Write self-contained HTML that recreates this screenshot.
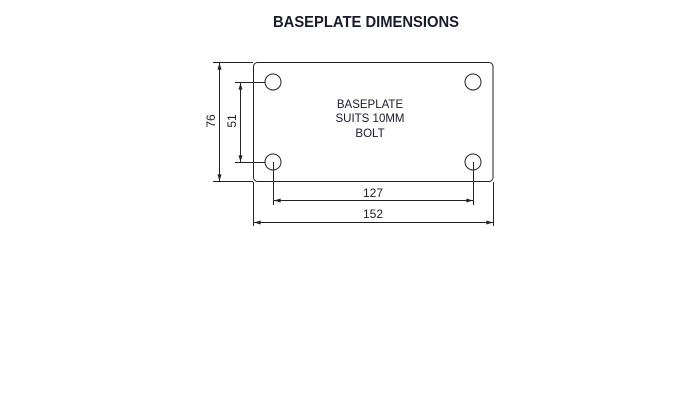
<!DOCTYPE html>
<html><head><meta charset="utf-8"><style>html,body{margin:0;padding:0;background:#fff;width:700px;height:400px;overflow:hidden}</style></head>
<body>
<svg width="700" height="400" viewBox="0 0 700 400" xmlns="http://www.w3.org/2000/svg" font-family="Liberation Sans, sans-serif">
<defs>
<marker id="a" viewBox="0 0 10 6" refX="10" refY="3" markerWidth="8" markerHeight="4" orient="auto-start-reverse" markerUnits="userSpaceOnUse"><path d="M0,0 L10,3 L0,6z" fill="#222"/></marker>
</defs>
<text x="366" y="27" text-anchor="middle" font-size="16" font-weight="bold" fill="#1a1a2e" textLength="186" lengthAdjust="spacingAndGlyphs">BASEPLATE DIMENSIONS</text>
<g stroke="#222" stroke-width="1" fill="none">
<rect x="253.5" y="62.5" width="239.5" height="119" rx="4"/>
<circle cx="273" cy="82" r="8"/>
<circle cx="473" cy="82" r="8"/>
<circle cx="273" cy="162" r="8"/>
<circle cx="473" cy="162" r="8"/>
<line x1="213" y1="62.5" x2="253" y2="62.5"/>
<line x1="213" y1="181.5" x2="253" y2="181.5"/>
<line x1="219.5" y1="63" x2="219.5" y2="181" marker-start="url(#a)" marker-end="url(#a)"/>
<line x1="235" y1="82.5" x2="265" y2="82.5"/>
<line x1="235" y1="162.5" x2="265" y2="162.5"/>
<line x1="240.5" y1="83" x2="240.5" y2="162" marker-start="url(#a)" marker-end="url(#a)"/>
<line x1="273.5" y1="162" x2="273.5" y2="205"/>
<line x1="473.5" y1="162" x2="473.5" y2="205"/>
<line x1="274" y1="200.5" x2="473" y2="200.5" marker-start="url(#a)" marker-end="url(#a)"/>
<line x1="253.5" y1="182" x2="253.5" y2="226"/>
<line x1="493.5" y1="182" x2="493.5" y2="226"/>
<line x1="254" y1="222.5" x2="493" y2="222.5" marker-start="url(#a)" marker-end="url(#a)"/>
</g>
<g font-size="12" fill="#222" text-anchor="middle">
<text x="373" y="197">127</text>
<text x="373" y="218">152</text>
<text transform="translate(215,121) rotate(-90)">76</text>
<text transform="translate(236,121) rotate(-90)">51</text>
</g>
<g font-size="11.5" fill="#1a1a2e" text-anchor="middle">
<text x="370" y="108">BASEPLATE</text>
<text x="370" y="122">SUITS 10MM</text>
<text x="370" y="137">BOLT</text>
</g>
</svg>
</body></html>
